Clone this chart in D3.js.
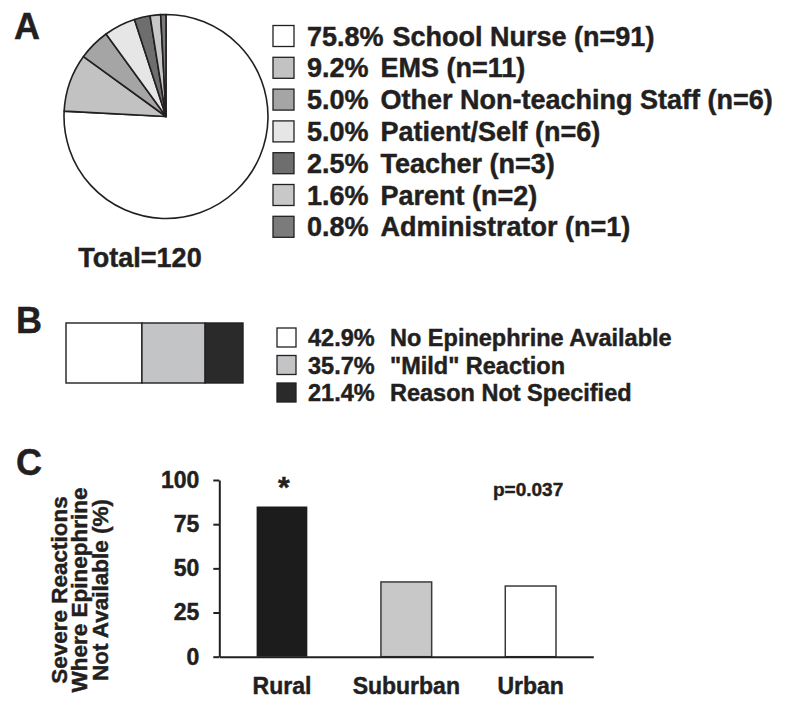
<!DOCTYPE html>
<html>
<head>
<meta charset="utf-8">
<script src="https://cdn.jsdelivr.net/npm/d3@7"></script>
<style>
    body { margin: 0; background: #fff; }
    svg { display: block; font-family: 'Liberation Sans', Arial, sans-serif; font-weight: bold; }
    svg text { font-weight: bold; stroke: #231f20; stroke-width: 0.45px; }
</style>
</head>
<body>
<svg id="chart" width="800" height="708"></svg>
<script>
// panel A - who gave epinephrine
const reporterLabels = ['School Nurse', 'EMS', 'Other Non-teaching Staff', 'Patient/Self', 'Teacher', 'Parent', 'Administrator'];
const reporterCounts = [91, 11, 6, 6, 3, 2, 1];
const reporterPcts = ['75.8%', '9.2%', '5.0%', '5.0%', '2.5%', '1.6%', '0.8%'];
const reporterColors = ['#ffffff', '#c2c2c2', '#a5a5a5', '#e6e6e6', '#6e6e6e', '#c8c8c8', '#7b7b7b'];

// panel B - reasons epinephrine not given
const reasonLabels = ['No Epinephrine Available', '"Mild" Reaction', 'Reason Not Specified'];
const reasonPcts = [42.9, 35.7, 21.4];
const reasonColors = ['#ffffff', '#c3c4c6', '#2a2a2a'];

// panel C - by location
const locations = ['Rural', 'Suburban', 'Urban'];
const locationValues = [85, 42.3, 40];
const locationColors = ['#1c1c1c', '#c8c8c8', '#ffffff'];
const yTicks = [0, 25, 50, 75, 100];

const ink = '#231f20';
const svg = d3.select('#chart');

const panelLetter = (txt, x, y) => {
    svg.append('text')
        .text(txt)
        .attr('x', x)
        .attr('y', y)
        .style('font-size', '36px')
        .style('fill', ink);
}

//--------------------------------------------------PANEL A
panelLetter('A', 14, 39);

const pieGroup = svg.append('g')
    .attr('transform', 'translate(166, 116.5)');

const pie = d3.pie().sort(null).value((d) => d);
const arc = d3.arc().innerRadius(0).outerRadius(102);

pieGroup.selectAll('path')
    .data(pie(reporterCounts))
    .enter().append('path')
    .attr('d', arc)
    .attr('fill', (d, i) => reporterColors[i])
    .attr('stroke', ink)
    .attr('stroke-width', 1.6)
    .attr('stroke-linejoin', 'round');

svg.append('text')
    .text('Total=' + d3.sum(reporterCounts))
    .attr('x', 140)
    .attr('y', 267)
    .style('text-anchor', 'middle')
    .style('font-size', '27px')
    .style('fill', ink);

const legendA = svg.append('g').selectAll('g')
    .data(reporterLabels)
    .enter().append('g')
    .attr('transform', (d, i) => `translate(273, ${25.5 + i * 31.8})`);

legendA.append('rect')
    .attr('width', 21)
    .attr('height', 21)
    .attr('fill', (d, i) => reporterColors[i])
    .attr('stroke', ink)
    .attr('stroke-width', 1.3);

const legendAText = legendA.append('text')
    .attr('x', 34)
    .attr('y', 20)
    .style('font-size', '27px')
    .style('fill', ink);

legendAText.append('tspan').text((d, i) => reporterPcts[i]);
legendAText.append('tspan')
    .attr('dx', (d, i) => i === 0 ? 9 : 12)
    .text((d, i) => `${d} (n=${reporterCounts[i]})`);

//--------------------------------------------------PANEL B
panelLetter('B', 16, 333);

const xStack = d3.scaleLinear().domain([0, 100]).range([66, 243]);
const stackStarts = d3.cumsum([0].concat(reasonPcts.slice(0, -1)));

svg.append('g').selectAll('rect')
    .data(reasonPcts)
    .enter().append('rect')
    .attr('x', (d, i) => xStack(stackStarts[i]))
    .attr('y', 323)
    .attr('width', (d) => xStack(d) - xStack(0))
    .attr('height', 60)
    .attr('fill', (d, i) => reasonColors[i])
    .attr('stroke', ink)
    .attr('stroke-width', 1.4);

const legendB = svg.append('g').selectAll('g')
    .data(reasonLabels)
    .enter().append('g')
    .attr('transform', (d, i) => `translate(277, ${328 + i * 27.5})`);

legendB.append('rect')
    .attr('width', 19)
    .attr('height', 19)
    .attr('fill', (d, i) => reasonColors[i])
    .attr('stroke', ink)
    .attr('stroke-width', 1.3);

const legendBText = legendB.append('text')
    .attr('x', 31)
    .attr('y', 18)
    .style('font-size', '23.5px')
    .style('fill', ink);

legendBText.append('tspan').text((d, i) => reasonPcts[i].toFixed(1) + '%');
legendBText.append('tspan')
    .attr('x', 113)
    .text((d) => d);

//--------------------------------------------------PANEL C
panelLetter('C', 16, 475);

const yScale = d3.scaleLinear().domain([0, 100]).range([656.7, 480]);
const xBand = d3.scaleBand()
    .domain(locations)
    .range([219.3, 593.3])
    .paddingInner(0.592)
    .paddingOuter(0.3);

svg.append('g').selectAll('rect')
    .data(locationValues)
    .enter().append('rect')
    .attr('x', (d, i) => xBand(locations[i]))
    .attr('y', (d) => yScale(d))
    .attr('width', xBand.bandwidth())
    .attr('height', (d) => yScale(0) - yScale(d))
    .attr('fill', (d, i) => locationColors[i])
    .attr('stroke', (d, i) => i === 0 ? 'none' : '#3a3a3a')
    .attr('stroke-width', 1.5);

const yAxis = svg.append('g')
    .attr('transform', 'translate(219.3, 0)')
    .call(d3.axisLeft(yScale).tickValues(yTicks).tickSize(6).tickSizeOuter(0).tickPadding(14));

const xAxis = svg.append('g')
    .attr('transform', `translate(0, ${yScale(0)})`)
    .call(d3.axisBottom(xBand).tickSize(0).tickPadding(21));

[yAxis, xAxis].forEach((ax) => {
    ax.select('.domain').attr('stroke', ink).attr('stroke-width', 2);
    ax.selectAll('.tick line').attr('stroke', ink).attr('stroke-width', 2);
    ax.selectAll('.tick text')
        .style('font-family', "'Liberation Sans', Arial, sans-serif")
        .style('font-weight', 'bold')
        .style('font-size', '23px')
        .style('fill', ink);
});

// significance marker and p-value
svg.append('text')
    .text('*')
    .attr('x', xBand('Rural') + xBand.bandwidth() / 2 + 2)
    .attr('y', 497)
    .style('text-anchor', 'middle')
    .style('font-size', '30px')
    .style('fill', ink);

svg.append('text')
    .text('p=0.037')
    .attr('x', 493)
    .attr('y', 496)
    .style('font-size', '19px')
    .style('fill', ink);

const yTitle = ['Severe Reactions', 'Where Epinephrine', 'Not Available (%)'];
svg.append('g').selectAll('text')
    .data(yTitle)
    .enter().append('text')
    .text((d) => d)
    .attr('transform', (d, i) => `translate(${66.5 + i * 20.5}, 590) rotate(-90)`)
    .style('text-anchor', 'middle')
    .style('font-size', '22.5px')
    .style('fill', ink);
</script>
</body>
</html>
